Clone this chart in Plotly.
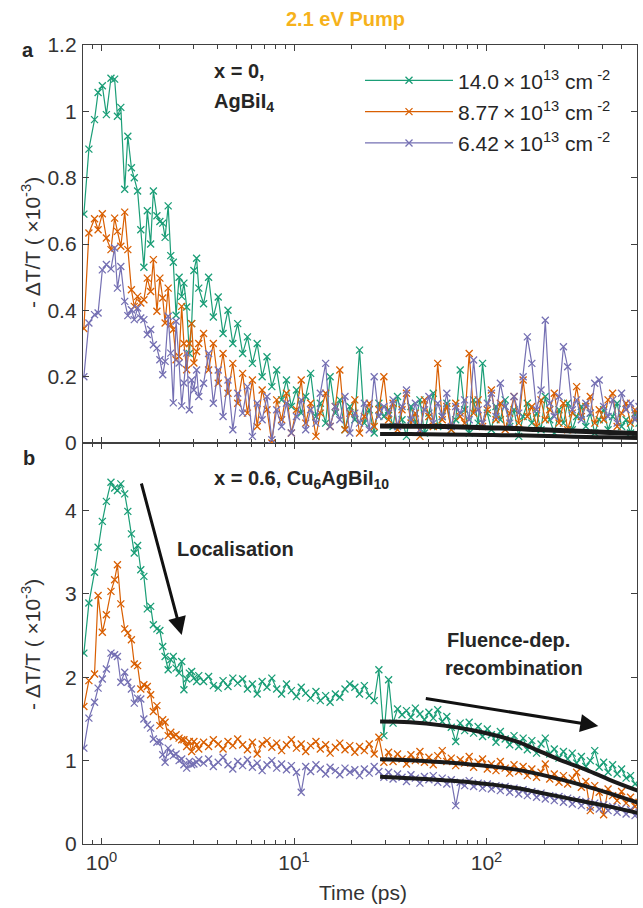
import plotly.graph_objects as go

# ---------------- data ----------------
time_ps = [0.81, 0.86, 0.92, 0.96, 1.01, 1.06, 1.12, 1.17, 1.21, 1.26,
           1.32, 1.37, 1.43, 1.48, 1.54, 1.60, 1.66, 1.73, 1.80, 1.86,
           1.94, 2.01, 2.08, 2.14, 2.22, 2.29, 2.36, 2.44, 2.53, 2.61,
           2.68, 2.77, 2.86, 2.94, 3.02, 3.12, 3.20,
           3.39, 3.60, 3.81, 4.04, 4.28, 4.54, 4.81, 5.10, 5.41, 5.73,
           6.08, 6.44, 6.83, 7.24, 7.67, 8.13, 8.62, 9.14, 9.69, 10.3,
           10.9, 11.5, 12.2, 13.0, 13.7, 14.6, 15.4, 16.4, 17.3, 18.4,
           19.5, 20.7, 21.9, 23.2, 24.6, 26.1, 27.6, 29.3,
           31.0, 32.7, 34.5, 36.4, 38.4, 40.5, 42.7, 45.1, 47.6, 50.2,
           52.9, 55.8, 58.9, 62.2, 65.6, 69.2, 73.0, 77.0, 81.3, 85.7,
           90.5, 95.4, 101, 106, 112, 118, 125, 132, 139, 147,
           155, 163, 172, 182, 192, 202, 213, 225, 238, 251,
           264, 279, 294, 311, 328, 346, 365, 385, 406, 428,
           452, 477, 503, 531, 560, 591, 620]

# panel a: x = 0, AgBiI4
a_high = [0.69, 0.886, 0.975, 1.057, 1.077, 0.99, 1.10, 1.097, 0.985, 1.012,
          0.765, 0.925, 0.83, 0.80, 0.76, 0.643, 0.53, 0.70, 0.60, 0.76,
          0.685, 0.668, 0.663, 0.62, 0.715, 0.565, 0.545, 0.385, 0.50, 0.442,
          0.482, 0.41, 0.27, 0.36, 0.52, 0.557, 0.467,
          0.42, 0.50, 0.38, 0.44, 0.33, 0.40, 0.30, 0.36, 0.27, 0.32,
          0.24, 0.30, 0.20, 0.26, 0.17, 0.22, 0.13, 0.19, 0.11, 0.16,
          0.09, 0.14, 0.21, 0.08, 0.12, 0.06, 0.20, 0.09, 0.13, 0.04,
          0.11, 0.07, 0.28, 0.06, 0.10, 0.03, 0.12, 0.08,
          0.10, 0.05, 0.14, 0.07, 0.02, 0.11, 0.06, 0.13, 0.03, 0.09,
          0.15, 0.05, 0.08, 0.12, 0.04, 0.07, 0.22, 0.10, 0.03, 0.13,
          0.06, 0.24, 0.09, 0.04, 0.11, 0.07, 0.13, 0.05, 0.10, 0.02,
          0.08, 0.12, 0.06, 0.09, 0.04, 0.14, 0.07, 0.03, 0.10, 0.06,
          0.12, 0.04, 0.08, 0.11, 0.05, 0.09, 0.03, 0.07, 0.10, 0.04,
          0.08, 0.12, 0.05, 0.07, 0.03, 0.09, 0.06]
a_mid = [0.345, 0.633, 0.676, 0.643, 0.691, 0.618, 0.583, 0.678, 0.638, 0.593,
         0.696, 0.583, 0.462, 0.412, 0.442, 0.422, 0.432, 0.497, 0.457, 0.553,
         0.397, 0.497, 0.437, 0.362, 0.467, 0.357, 0.342, 0.251, 0.261, 0.412,
         0.30, 0.221, 0.30, 0.36, 0.241, 0.276, 0.30,
         0.33, 0.22, 0.30, 0.18, 0.27, 0.15, 0.24, 0.12, 0.21, 0.09,
         0.19, 0.05, 0.16, 0.10, 0.00, 0.13, 0.07, 0.15, 0.03, 0.10,
         0.19, 0.06, 0.12, 0.02, 0.09, 0.15, 0.05, 0.11, 0.22, 0.04,
         0.09, 0.13, 0.03, 0.08, 0.12, 0.05, 0.10, 0.20,
         0.07, 0.12, 0.04, 0.10, 0.15, 0.06, 0.09, 0.02, 0.13, 0.08,
         0.05, 0.24, 0.07, 0.11, 0.04, 0.12, 0.08, 0.06, 0.27, 0.09,
         0.13, 0.05, 0.10, 0.16, 0.07, 0.12, 0.04, 0.09, 0.14, 0.06,
         0.19, 0.08, 0.11, 0.05, 0.13, 0.07, 0.10, 0.15, 0.06, 0.12,
         0.04, 0.09, 0.17, 0.08, 0.11, 0.14, 0.06, 0.10, 0.07, 0.13,
         0.15, 0.05, 0.09, 0.12, 0.06, 0.10, 0.08]
a_low = [0.20, 0.362, 0.387, 0.392, 0.522, 0.538, 0.525, 0.588, 0.467, 0.532,
         0.427, 0.384, 0.402, 0.372, 0.407, 0.377, 0.372, 0.327, 0.342, 0.296,
         0.286, 0.251, 0.206, 0.246, 0.382, 0.271, 0.121, 0.367, 0.241, 0.112,
         0.181, 0.271, 0.10, 0.19, 0.16, 0.22, 0.14,
         0.18, 0.27, 0.12, 0.22, 0.08, 0.19, 0.04, 0.15, 0.09, 0.17,
         0.02, 0.12, 0.07, 0.14, 0.01, 0.10, 0.05, 0.12, 0.03, 0.08,
         0.13, 0.04, 0.10, 0.06, 0.15, 0.24, 0.05, 0.11, 0.07, 0.14,
         0.03, 0.09, 0.06, 0.12, 0.04, 0.20, 0.08, 0.11,
         0.09, 0.13, 0.05, 0.11, 0.16, 0.07, 0.12, 0.04, 0.10, 0.14,
         0.06, 0.12, 0.08, 0.15, 0.05, 0.11, 0.09, 0.13, 0.07, 0.25,
         0.10, 0.06, 0.12, 0.15, 0.08, 0.18, 0.11, 0.06, 0.14, 0.09,
         0.20, 0.32, 0.24, 0.10, 0.16, 0.37, 0.12, 0.08, 0.14, 0.29,
         0.23, 0.10, 0.13, 0.07, 0.12, 0.09, 0.18, 0.19, 0.11, 0.08,
         0.13, 0.06, 0.15, 0.10, 0.12, 0.07, 0.11]

# panel b: x = 0.6, Cu6AgBiI10
b_high = [2.29, 2.89, 3.26, 3.56, 3.87, 4.11, 4.34, 4.27, 4.24, 4.32,
          4.20, 3.99, 3.72, 3.49, 3.58, 3.29, 3.21, 2.82, 2.85, 2.63,
          2.58, 2.56, 2.37, 2.25, 2.09, 2.21, 2.25, 2.11, 2.05, 2.19,
          1.85, 1.98, 2.05, 2.07, 1.99, 1.95, 2.02,
          1.95, 2.01, 1.90, 1.87, 1.96, 1.89, 1.99, 1.93, 1.98, 1.86,
          1.92, 1.80, 1.95, 1.88, 1.99, 1.86, 1.80, 1.92, 1.84, 1.77,
          1.88, 1.81, 1.75, 1.83, 1.72, 1.78, 1.70, 1.80, 1.76, 1.86,
          1.92, 1.88, 1.80, 1.90, 1.78, 1.72, 2.09, 1.30,
          1.97, 1.45, 1.62, 1.55, 1.60, 1.52, 1.63, 1.56, 1.49, 1.58,
          1.51, 1.61, 1.47, 1.53, 1.40, 1.23, 1.45, 1.36, 1.46, 1.33,
          1.41, 1.29, 1.38, 1.31, 1.22, 1.35, 1.26, 1.19, 1.30, 1.17,
          1.27, 1.13, 1.24, 1.09, 1.20, 1.27, 1.08, 1.14, 1.03, 1.11,
          1.02, 1.09, 0.97, 1.05, 0.93, 1.00, 1.12, 0.92, 0.98, 0.86,
          0.95, 0.84, 0.90, 0.79, 0.82, 0.72, 0.68]
b_mid = [1.65, 1.96, 2.04, 2.98, 2.54, 2.75, 3.03, 3.17, 3.35, 2.88,
         2.58, 2.53, 2.45, 2.16, 2.14, 1.86, 1.91, 1.89, 1.79, 1.59,
         1.66, 1.42, 1.49, 1.46, 1.30, 1.34, 1.29, 1.31, 1.27, 1.25,
         1.25, 1.17, 1.23, 1.11, 1.23, 1.19, 1.14,
         1.22, 1.17, 1.25, 1.20, 1.14, 1.23, 1.18, 1.26, 1.19, 1.13,
         1.22, 1.08, 1.20, 1.24, 1.16, 1.21, 1.12, 1.19, 1.25, 1.15,
         1.20, 1.11, 1.18, 1.23, 1.14, 1.19, 1.09, 1.16, 1.21, 1.13,
         1.18, 1.10, 1.17, 1.12, 1.20, 1.08, 1.28, 0.98,
         1.10, 0.99, 1.08, 1.02, 0.96, 1.07, 1.00, 1.11, 0.98, 1.04,
         0.95, 1.06, 1.12, 0.99, 1.03, 0.94, 1.01, 0.97, 1.05, 0.92,
         0.98, 1.02, 0.90, 0.96, 0.88, 0.99, 0.91, 0.85, 0.95, 0.87,
         0.93, 0.82, 0.90, 0.80, 0.86, 0.96, 0.78, 0.84, 0.74, 0.82,
         0.72, 0.79, 0.86, 0.68, 0.75, 0.40, 0.70, 0.62, 0.35, 0.66,
         0.58, 0.52, 0.63, 0.49, 0.56, 0.45, 0.50]
b_low = [1.15, 1.51, 1.70, 1.87, 1.98, 2.10, 2.29, 2.27, 2.25, 1.94,
         2.06, 1.94, 1.86, 1.69, 1.75, 1.74, 1.50, 1.43, 1.39, 1.26,
         1.22, 1.23, 1.07, 0.98, 1.15, 1.10, 1.06, 1.08, 1.00, 1.02,
         0.95, 0.91, 0.99, 0.95, 0.96, 0.98, 1.01,
         0.97, 1.02, 0.93, 0.98, 1.04, 0.95, 0.90, 0.99, 0.94, 1.01,
         0.92, 0.97, 0.88, 0.95, 1.00, 0.91, 0.96, 0.89, 0.94, 0.86,
         0.62, 0.93, 0.87, 0.95, 0.90, 0.84, 0.92, 0.88, 0.83, 0.91,
         0.86, 0.89, 0.82, 0.90, 0.85, 0.93, 0.87, 0.80,
         0.86, 0.78, 0.84, 0.80, 0.75, 0.83, 0.79, 0.73, 0.81, 0.77,
         0.82, 0.74, 0.79, 0.72, 0.77, 0.46, 0.74, 0.70, 0.76, 0.69,
         0.73, 0.67, 0.72, 0.66, 0.70, 0.64, 0.69, 0.62, 0.67, 0.60,
         0.65, 0.58, 0.63, 0.56, 0.61, 0.54, 0.58, 0.52, 0.57, 0.50,
         0.55, 0.48, 0.53, 0.46, 0.51, 0.44, 0.49, 0.42, 0.47, 0.40,
         0.45, 0.38, 0.43, 0.36, 0.41, 0.34, 0.38]

# fits (black lines)
fit_time_ps = [28, 40, 60, 82, 108, 143, 182, 240, 330, 436, 625]
fit_a_high = [0.053, 0.052, 0.051, 0.049, 0.047, 0.045, 0.042, 0.039, 0.036, 0.033, 0.030]
fit_a_mid = [0.050, 0.049, 0.048, 0.046, 0.044, 0.042, 0.039, 0.036, 0.033, 0.030, 0.027]
fit_a_low = [0.027, 0.027, 0.026, 0.025, 0.024, 0.023, 0.022, 0.020, 0.018, 0.017, 0.015]
fit_b_high = [1.47, 1.46, 1.42, 1.37, 1.31, 1.23, 1.13, 1.01, 0.89, 0.77, 0.63]
fit_b_mid = [1.017, 1.004, 0.98, 0.954, 0.928, 0.892, 0.844, 0.778, 0.692, 0.608, 0.488]
fit_b_low = [0.808, 0.79, 0.765, 0.742, 0.712, 0.672, 0.624, 0.568, 0.504, 0.448, 0.368]

series_names = ["14.0\u2009×\u200910<sup>13</sup> cm<sup> -2</sup>",
                "8.77\u2009×\u200910<sup>13</sup> cm<sup> -2</sup>",
                "6.42\u2009×\u200910<sup>13</sup> cm<sup> -2</sup>"]

for s in (a_high, a_mid, a_low, b_high, b_mid, b_low):
    assert len(s) == len(time_ps), len(s)

# ---------------- styling ----------------
colors = ["#1b9e77", "#d95f02", "#7570b3"]
FONT = "Liberation Sans, Arial, Helvetica, sans-serif"
AX = "#404040"
TXT = "#333333"

fig = go.Figure()

panel_a = [a_high, a_mid, a_low]
panel_b = [b_high, b_mid, b_low]
fits_a = [fit_a_high, fit_a_mid, fit_a_low]
fits_b = [fit_b_high, fit_b_mid, fit_b_low]

for i in range(3):
    fig.add_trace(go.Scatter(
        x=time_ps, y=panel_a[i], mode="lines+markers", name=series_names[i],
        xaxis="x2", yaxis="y2", legendgroup=f"g{i}",
        line=dict(color=colors[i], width=1.2),
        marker=dict(symbol="x-thin", size=7, line=dict(width=1.3, color=colors[i]), color=colors[i])))
for i in range(3):
    fig.add_trace(go.Scatter(
        x=time_ps, y=panel_b[i], mode="lines+markers", showlegend=False,
        xaxis="x", yaxis="y",
        line=dict(color=colors[i], width=1.2),
        marker=dict(symbol="x-thin", size=7, line=dict(width=1.3, color=colors[i]), color=colors[i])))
for i in range(3):
    fig.add_trace(go.Scatter(x=fit_time_ps, y=fits_a[i], mode="lines", showlegend=False,
                             xaxis="x2", yaxis="y2", line=dict(color="#1a1a1a", width=4, shape="spline")))
    fig.add_trace(go.Scatter(x=fit_time_ps, y=fits_b[i], mode="lines", showlegend=False,
                             xaxis="x", yaxis="y", line=dict(color="#1a1a1a", width=4, shape="spline")))

minor_vals = [0.9, 2, 3, 4, 5, 6, 7, 8, 9, 20, 30, 40, 50, 60, 70, 80, 90,
              200, 300, 400, 500]
xcommon = dict(type="log", range=[-0.0961, 2.7818], showgrid=False, zeroline=False,
               showline=True, linecolor=AX, linewidth=1.3, mirror="ticks",
               ticks="inside", ticklen=6, tickwidth=1.2, tickcolor=AX,
               tickvals=[1, 10, 100],
               ticktext=["10<sup>0</sup>", "10<sup>1</sup>", "10<sup>2</sup>"],
               minor=dict(tickvals=minor_vals, ticks="inside", ticklen=3.5,
                          tickwidth=1.1, tickcolor=AX, showgrid=False),
               tickfont=dict(family=FONT, size=21, color=TXT))
ycommon = dict(showgrid=False, zeroline=False, showline=True, linecolor=AX,
               linewidth=1.3, mirror="ticks", ticks="inside", ticklen=6,
               tickwidth=1.2, tickcolor=AX, ticklabelstandoff=1,
               tickfont=dict(family=FONT, size=21, color=TXT))

split = 401 / 799
fig.update_layout(
    width=643, height=908,
    margin=dict(l=83, r=6, t=45, b=64),
    paper_bgcolor="white", plot_bgcolor="white",
    xaxis=dict(domain=[0, 1], anchor="y", **xcommon),
    xaxis2=dict(domain=[0, 1], anchor="y2", matches="x", showticklabels=False,
                **{k: v for k, v in xcommon.items() if k != "tickfont"}),
    yaxis=dict(domain=[0, split], anchor="x", range=[0, 4.81], tick0=0, dtick=1, **ycommon),
    yaxis2=dict(domain=[split, 1], anchor="x2", range=[0, 1.2], tick0=0, dtick=0.2, **ycommon),
    legend=dict(x=0.5, y=0.981, xanchor="left", yanchor="top", bgcolor="rgba(0,0,0,0)",
                borderwidth=0, itemwidth=88, traceorder="grouped", tracegroupgap=1,
                font=dict(family=FONT, size=21, color="#262626")),
    showlegend=True,
)

def px(x):
    return (x - 83) / 554

def py(y):
    return (844 - y) / 799

bold = dict(family=FONT, size=20, color="#262626")
ann = [
    dict(text="<b>2.1 eV Pump</b>", x=px(345), y=py(19), font=dict(family=FONT, size=20, color="#F6B21B")),
    dict(text="<b>a</b>", x=px(28), y=py(50), font=bold),
    dict(text="<b>b</b>", x=px(29), y=py(458), font=bold),
    dict(text="<b>x = 0,</b>", x=px(212), y=py(71), xanchor="left", font=bold),
    dict(text="<b>AgBiI<sub>4</sub></b>", x=px(212), y=py(103), xanchor="left", font=bold),
    dict(text="<b>x = 0.6, Cu<sub>6</sub>AgBiI<sub>10</sub></b>", x=px(212), y=py(479), xanchor="left", font=bold),
    dict(text="<b>Localisation</b>", x=px(175), y=py(549), xanchor="left", font=bold),
    dict(text="<b>Fluence-dep.</b>", x=px(445), y=py(640), xanchor="left", font=bold),
    dict(text="<b>recombination</b>", x=px(443), y=py(668), xanchor="left", font=bold),
    dict(text="Time (ps)", x=px(363), y=py(892), font=dict(family=FONT, size=21, color=TXT)),
    dict(text="- ΔT/T ( ×10<sup>-3</sup>)", x=px(31), y=py(243), textangle=-90,
         font=dict(family=FONT, size=21, color=TXT)),
    dict(text="- ΔT/T ( ×10<sup>-3</sup>)", x=px(31), y=py(645), textangle=-90,
         font=dict(family=FONT, size=21, color=TXT)),
]
for a in ann:
    base = dict(xref="paper", yref="paper", showarrow=False, xanchor="center", yanchor="middle")
    base.update(a)
    fig.add_annotation(**base)

# arrows
for tip, tail in [((181.7, 635), (141, 482)), ((598.3, 726), (424.3, 698.3))]:
    fig.add_annotation(xref="paper", yref="paper", x=px(tip[0]), y=py(tip[1]),
                       ax=tail[0] - tip[0], ay=tail[1] - tip[1], axref="pixel", ayref="pixel",
                       text="", showarrow=True, arrowhead=2, arrowsize=1.2, arrowwidth=3,
                       arrowcolor="#111111", standoff=0, startstandoff=0)

fig.write_html("out.html", config={"displayModeBar": False},
               post_script="document.body.style.margin='0';document.body.style.overflow='hidden';")
